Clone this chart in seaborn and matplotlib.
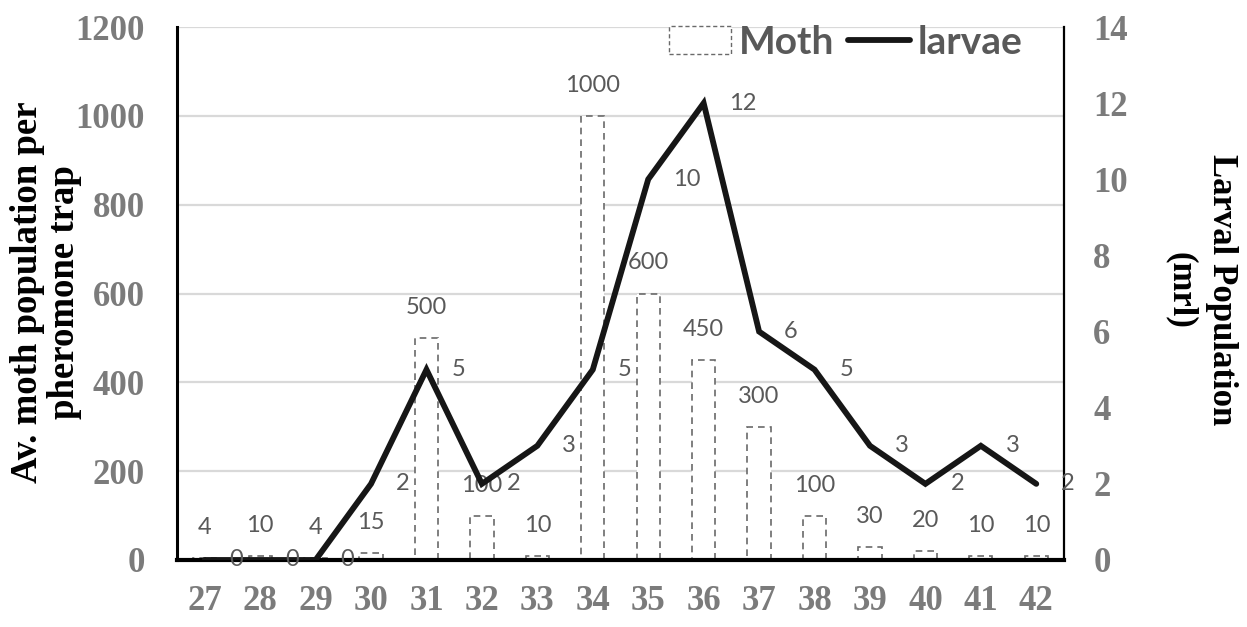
import numpy as np
import matplotlib
matplotlib.use("Agg")
import matplotlib.pyplot as plt
from matplotlib.patches import Patch
from matplotlib.lines import Line2D
import seaborn as sns

# data
weeks = ["27", "28", "29", "30", "31", "32", "33", "34",
         "35", "36", "37", "38", "39", "40", "41", "42"]
moth = [4, 10, 4, 15, 500, 100, 10, 1000, 600, 450, 300, 100, 30, 20, 10, 10]
larvae = [0, 0, 0, 2, 5, 2, 3, 5, 10, 12, 6, 5, 3, 2, 3, 2]

sns.set_style("white")
plt.rcParams["font.family"] = ["Liberation Serif", "DejaVu Serif"]

tick_grey = "#7b7b7b"
lab_grey = "#595959"
serif = "Liberation Serif"
sans = "Lato"

fig = plt.figure(figsize=(12.47, 6.27), dpi=100)
ax = fig.add_axes([177 / 1247, 1 - 560 / 627, (1064 - 177) / 1247, (560 - 27) / 627])
ax2 = ax.twinx()

sns.barplot(x=weeks, y=moth, ax=ax, color="white", edgecolor="#6a6a6a",
            linewidth=1.2, linestyle=(0, (4, 3)), width=0.42, saturation=1)
ax.set_ylim(0, 1200)
ax.set_xlim(-0.5, len(weeks) - 0.5)
ax.set_yticks(np.arange(0, 1201, 200))
ax.yaxis.grid(True, color="#d9d9d9", lw=1.6)
ax.set_axisbelow(True)
ax.set_xlabel("")
ax.set_ylabel("")

pos = np.arange(len(weeks))
sns.lineplot(x=pos, y=larvae, ax=ax2, color="#161616", lw=4.2,
             solid_joinstyle="miter")
ax2.set_ylim(0, 14)
ax2.set_yticks(np.arange(0, 15, 2))
ax2.set_xlim(-0.5, len(weeks) - 0.5)
ax2.set_ylabel("")

for s in ["top", "right"]:
    ax.spines[s].set_visible(False)
ax.spines["left"].set_color("black")
ax.spines["left"].set_linewidth(2.2)
ax.spines["bottom"].set_color("black")
ax.spines["bottom"].set_linewidth(3)
for s in ["top", "left", "bottom"]:
    ax2.spines[s].set_visible(False)
ax2.spines["right"].set_color("black")
ax2.spines["right"].set_linewidth(1.6)

ax.tick_params(axis="y", length=0, pad=23, labelsize=25, labelcolor=tick_grey)
ax.tick_params(axis="x", length=0, pad=18, labelsize=25, labelcolor=tick_grey)
ax2.tick_params(axis="y", length=0, pad=21, labelsize=25, labelcolor=tick_grey)
for t in ax.get_xticklabels() + ax.get_yticklabels() + ax2.get_yticklabels():
    t.set_fontweight("bold")
    t.set_fontfamily(serif)

# data labels
for i, v in enumerate(moth):
    ax.annotate(str(v), (i, v), xytext=(0, 22), textcoords="offset points",
                ha="center", va="center", fontsize=17, color=lab_grey, family=sans)
for i, v in enumerate(larvae):
    ax2.annotate(str(v), (i, v), xytext=(18, 0), textcoords="offset points",
                 ha="left", va="center", fontsize=17, color=lab_grey, family=sans,
                 annotation_clip=False)

fig.text(46 / 1247, 1 - 292 / 627, "Av. moth population per\npheromone trap",
         rotation=90, ha="center", va="center", fontsize=26.5, fontweight="bold",
         family=serif, color="black", linespacing=1.1)
fig.text(1201 / 1247, 1 - 290 / 627, "Larval Population\n(mrl)",
         rotation=270, ha="center", va="center", fontsize=25, fontweight="bold",
         family=serif, color="black", linespacing=1.3)

handles = [Patch(facecolor="white", edgecolor="#6a6a6a", linestyle=(0, (3, 2)), lw=1.0),
           Line2D([], [], color="#161616", lw=4.2)]
leg = ax2.legend(handles, ["Moth", "larvae"], ncol=2, loc="center",
                 bbox_to_anchor=(846 / 1247, 1 - 42 / 627), bbox_transform=fig.transFigure,
                 frameon=False, handlelength=1.6, handletextpad=0.2, columnspacing=0.35,
                 prop={"family": sans, "weight": "bold", "size": 28})
for t in leg.get_texts():
    t.set_color(lab_grey)

fig.savefig("out.png", dpi=100)
